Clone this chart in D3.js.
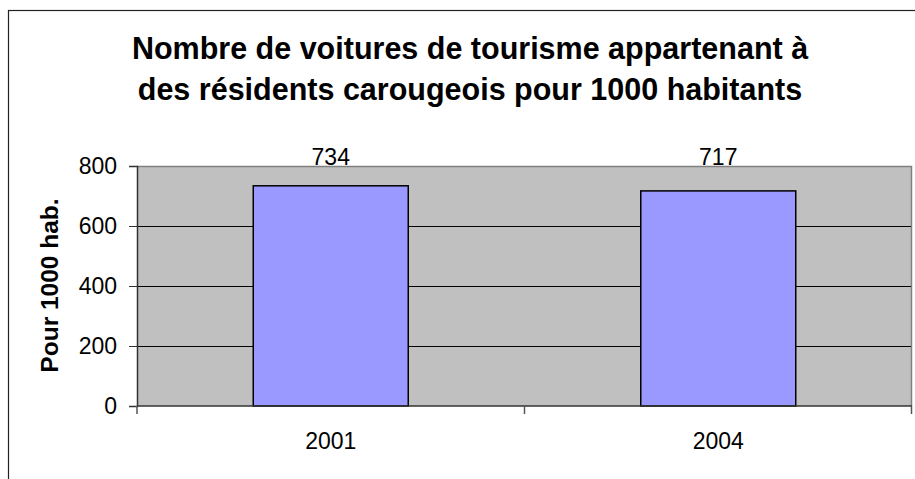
<!DOCTYPE html>
<html>
<head>
<meta charset="utf-8">
<script src="https://cdn.jsdelivr.net/npm/d3@7"></script>
<style>
  body { margin: 0; background: #fff; }
  text { font-family: "Liberation Sans", Arial, sans-serif; fill: #000; }
</style>
</head>
<body>
<div id="chart"></div>
<script>
/** chart data */
let years = ['2001', '2004'];
let values = [734, 717];
let yTicks = [0, 200, 400, 600, 800];
let titleLines = ['Nombre de voitures de tourisme appartenant à',
                  'des résidents carougeois pour 1000 habitants'];
let yTitle = 'Pour 1000 hab.';

let width = 915, height = 479;
let plot = { left: 137, right: 912, top: 166, bottom: 406 };

let svg = d3.select('#chart')
  .append('svg')
  .attr('width', width)
  .attr('height', height);

/** outer frame */
svg.append('rect')
  .attr('x', 8.5).attr('y', 10.5)
  .attr('width', 920).attr('height', 490)
  .attr('fill', 'none')
  .attr('stroke', '#222')
  .attr('stroke-width', 1.2);

/** scales */
let x = d3.scaleBand()
  .domain(years)
  .range([plot.left, plot.right])
  .paddingInner(0.6)
  .paddingOuter(0.3);

let y = d3.scaleLinear()
  .domain([0, 800])
  .range([plot.bottom, plot.top]);

/** plot background */
svg.append('rect')
  .attr('x', plot.left).attr('y', plot.top)
  .attr('width', plot.right - plot.left)
  .attr('height', plot.bottom - plot.top)
  .attr('fill', '#c0c0c0');

// top and right border of plot area
svg.append('path')
  .attr('d', `M${plot.left},${plot.top + 0.5}H${plot.right - 0.5}V${plot.bottom}`)
  .attr('fill', 'none')
  .attr('stroke', '#808080')
  .attr('stroke-width', 1.5);

/** gridlines */
svg.selectAll('.grid')
  .data(yTicks.filter(d => d > 0 && d < 800))
  .enter()
  .append('line')
  .attr('class', 'grid')
  .attr('x1', plot.left).attr('x2', plot.right - 1)
  .attr('y1', d => Math.round(y(d)) + 0.5)
  .attr('y2', d => Math.round(y(d)) + 0.5)
  .attr('stroke', '#000')
  .attr('stroke-width', 1);

/** bars */
svg.selectAll('.bar')
  .data(values)
  .enter()
  .append('rect')
  .attr('class', 'bar')
  .attr('x', (d, i) => x(years[i]))
  .attr('y', d => y(d))
  .attr('width', x.bandwidth())
  .attr('height', d => plot.bottom - y(d))
  .attr('fill', '#9999ff')
  .attr('stroke', '#000')
  .attr('stroke-width', 1.5);

/** value labels */
svg.selectAll('.val')
  .data(values)
  .enter()
  .append('text')
  .attr('class', 'val')
  .attr('x', (d, i) => x(years[i]) + x.bandwidth() / 2)
  .attr('y', 165)
  .attr('text-anchor', 'middle')
  .style('font-size', '23px')
  .text(d => d);

/** y axis */
let yAxis = d3.axisLeft(y)
  .tickValues(yTicks)
  .tickSize(8)
  .tickPadding(12);

svg.append('g')
  .attr('transform', `translate(${plot.left},0)`)
  .call(yAxis)
  .call(g => g.select('.domain').attr('stroke', '#333').attr('stroke-width', 1.5))
  .call(g => g.selectAll('.tick line').attr('stroke', '#333'))
  .call(g => g.selectAll('.tick text')
    .style('font-size', '23px')
    .style('font-family', '"Liberation Sans", Arial, sans-serif')
    .attr('fill', '#000'));

/** x axis: ticks on category boundaries */
svg.append('line')
  .attr('x1', plot.left).attr('x2', plot.right)
  .attr('y1', plot.bottom).attr('y2', plot.bottom)
  .attr('stroke', '#333')
  .attr('stroke-width', 1.5);

let bounds = [plot.left, plot.left + x.step(), plot.right - 0.5];
svg.selectAll('.xtick')
  .data(bounds)
  .enter()
  .append('line')
  .attr('class', 'xtick')
  .attr('x1', d => d).attr('x2', d => d)
  .attr('y1', plot.bottom).attr('y2', plot.bottom + 8)
  .attr('stroke', '#555')
  .attr('stroke-width', 1.5);

svg.selectAll('.xlab')
  .data(years)
  .enter()
  .append('text')
  .attr('class', 'xlab')
  .attr('x', d => x(d) + x.bandwidth() / 2)
  .attr('y', 449)
  .attr('text-anchor', 'middle')
  .style('font-size', '23px')
  .text(d => d);

/** y axis title */
svg.append('text')
  .attr('transform', 'translate(58,285.5) rotate(-90)')
  .attr('text-anchor', 'middle')
  .style('font-size', '24.5px')
  .style('font-weight', 'bold')
  .text(yTitle);

/** chart title */
svg.selectAll('.title')
  .data(titleLines)
  .enter()
  .append('text')
  .attr('class', 'title')
  .attr('x', 470)
  .attr('y', (d, i) => 59 + i * 41)
  .attr('text-anchor', 'middle')
  .style('font-size', '30.5px')
  .style('font-weight', 'bold')
  .text(d => d);
</script>
</body>
</html>
